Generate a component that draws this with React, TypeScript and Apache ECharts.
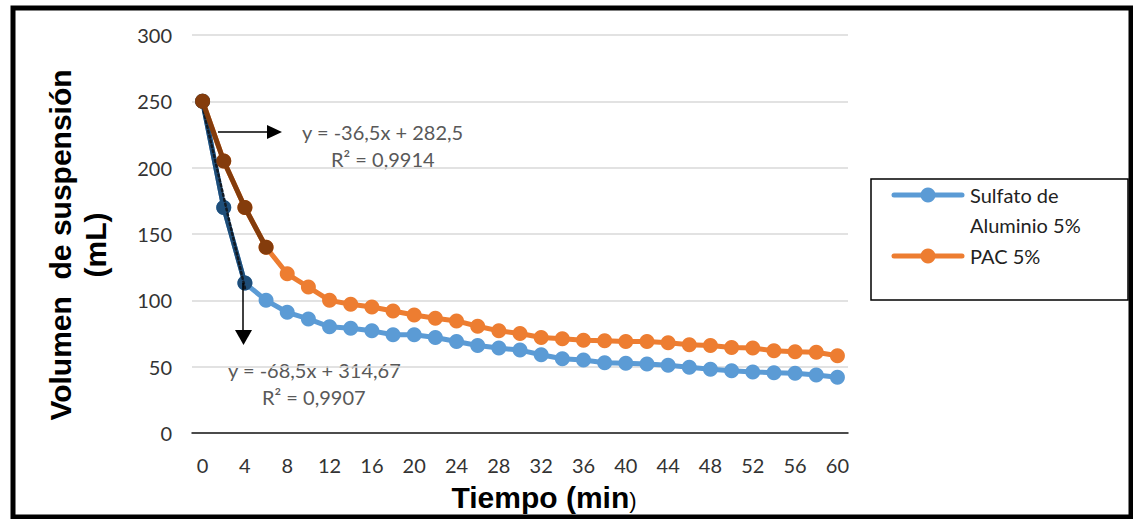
import React, { useEffect, useRef } from "react";
import * as echarts from "echarts";

const times = [0, 2, 4, 6, 8, 10, 12, 14, 16, 18, 20, 22, 24, 26, 28, 30, 32, 34, 36, 38, 40, 42, 44, 46, 48, 50, 52, 54, 56, 58, 60];
const sulfato = [250, 170, 113, 100, 91, 86, 80, 79, 77, 74, 74, 72, 69, 66, 64, 62.5, 59, 56, 55, 53, 52.5, 52, 51, 49.5, 48, 47, 46, 45.5, 45, 43.7, 42];
const pac = [250, 205, 170, 140, 120, 110, 100, 97, 95, 92, 89, 86.5, 84.5, 80.5, 77, 75, 72, 71, 70, 69.5, 69, 69, 68, 66.5, 66, 64.5, 64, 62, 61.3, 60.8, 58.3];
// trendline read from the displayed fit (first three Sulfato points)
const trendSulfato = [246.2, 177.7, 109.2];
const sulfatoHighlight = sulfato.slice(0, 3);
const pacHighlight = pac.slice(0, 4);
const seriesNames = ["Sulfato de Aluminio 5%", "PAC 5%"];
const eqPac = ["y = -36,5x + 282,5", "R² = 0,9914"];
const eqSulfato = ["y = -68,5x + 314,67", "R² = 0,9907"];

const BLUE = "#5B9BD5";
const ORANGE = "#ED7D31";
const NAVY = "#1F4E79";
const BROWN = "#843C0C";
const FONT = "Lato, 'Open Sans', sans-serif";

export default function App() {
  const ref = useRef<HTMLDivElement>(null);
  useEffect(() => {
    if (!ref.current) return;
    const chart = echarts.init(ref.current, undefined, { renderer: "svg" });
    const lineSeries = (name: string, data: any[], color: string, z: number) => ({
      name,
      type: "line",
      data,
      z,
      symbol: "circle",
      symbolSize: 15,
      showSymbol: true,
      showAllSymbol: true,
      itemStyle: { color },
      lineStyle: { color, width: 5 },
      emphasis: { disabled: true },
    });
    chart.setOption({
      animation: false,
      grid: { left: 192, right: 285, top: 35, bottom: 86, containLabel: false },
      xAxis: {
        type: "category",
        data: times.map(String),
        boundaryGap: true,
        axisLine: { show: true, lineStyle: { color: "#1a1a1a", width: 1.5 } },
        axisTick: { show: false },
        axisLabel: { interval: 1, margin: 22, color: "#333", fontSize: 20, fontFamily: FONT },
        splitLine: { show: false },
      },
      yAxis: {
        type: "value",
        min: 0,
        max: 300,
        interval: 50,
        axisLine: { show: false },
        axisTick: { show: false },
        axisLabel: { margin: 20, color: "#333", fontSize: 20, fontFamily: FONT },
        splitLine: { lineStyle: { color: "#D9D9D9", width: 1.5 } },
      },
      series: [
        lineSeries(seriesNames[0], sulfato, BLUE, 2),
        lineSeries(seriesNames[1], pac, ORANGE, 3),
        lineSeries("Sulfato (tramo)", sulfatoHighlight, NAVY, 4),
        {
          name: "Tendencia Sulfato",
          type: "line",
          data: trendSulfato,
          z: 5,
          symbol: "none",
          lineStyle: { color: "#111a24", width: 2.5, type: [2, 3], cap: "round" },
          emphasis: { disabled: true },
        },
        lineSeries("PAC (tramo)", pacHighlight, BROWN, 6),
      ],
      graphic: [
        {
          type: "rect",
          shape: { x: 13, y: 8, width: 1118, height: 509 },
          style: { fill: "none", stroke: "#000", lineWidth: 5 },
          silent: true,
        },
        {
          type: "text",
          x: 60,
          y: 245,
          rotation: Math.PI / 2,
          style: {
            text: "Volumen  de suspensión",
            font: "bold 30px 'Liberation Sans', Arial, sans-serif",
            fill: "#000",
            align: "center",
            verticalAlign: "middle",
          },
        },
        {
          type: "text",
          x: 95,
          y: 245,
          rotation: Math.PI / 2,
          style: {
            text: "(mL)",
            font: "bold 30px 'Liberation Sans', Arial, sans-serif",
            fill: "#000",
            align: "center",
            verticalAlign: "middle",
          },
        },
        {
          type: "text",
          x: 544,
          y: 497,
          style: {
            text: "{b|Tiempo (min}{r|)}",
            align: "center",
            verticalAlign: "middle",
            rich: {
              b: { font: "bold 30px 'Liberation Sans', Arial, sans-serif", fill: "#000" },
              r: { font: "22px 'Liberation Sans', Arial, sans-serif", fill: "#000", padding: [6, 0, 0, 0] },
            },
          },
        },
        // legend
        {
          type: "rect",
          shape: { x: 871, y: 179, width: 257, height: 121 },
          style: { fill: "#fff", stroke: "#000", lineWidth: 1.5 },
        },
        { type: "line", shape: { x1: 894, y1: 195, x2: 962, y2: 195 }, style: { stroke: BLUE, lineWidth: 5, lineCap: "round" } },
        { type: "circle", shape: { cx: 928, cy: 195, r: 7.5 }, style: { fill: BLUE } },
        { type: "text", x: 970, y: 195, style: { text: "Sulfato de", font: `20px ${FONT}`, fill: "#222", verticalAlign: "middle" } },
        { type: "text", x: 970, y: 225, style: { text: "Aluminio 5%", font: `20px ${FONT}`, fill: "#222", verticalAlign: "middle" } },
        { type: "line", shape: { x1: 894, y1: 256, x2: 962, y2: 256 }, style: { stroke: ORANGE, lineWidth: 5, lineCap: "round" } },
        { type: "circle", shape: { cx: 928, cy: 256, r: 7.5 }, style: { fill: ORANGE } },
        { type: "text", x: 970, y: 256, style: { text: "PAC 5%", font: `20px ${FONT}`, fill: "#222", verticalAlign: "middle" } },
        // arrows
        { type: "line", shape: { x1: 218, y1: 132, x2: 268, y2: 132 }, style: { stroke: "#000", lineWidth: 1.5 }, z: 20 },
        { type: "polygon", shape: { points: [[267, 125], [282, 132], [267, 139]] }, style: { fill: "#000" }, z: 20 },
        { type: "line", shape: { x1: 243, y1: 283, x2: 243, y2: 331 }, style: { stroke: "#000", lineWidth: 1.5 }, z: 20 },
        { type: "polygon", shape: { points: [[235, 330], [252, 330], [243.5, 345]] }, style: { fill: "#000" }, z: 20 },
        // equations
        { type: "text", x: 302, y: 132, style: { text: eqPac[0], font: `20px ${FONT}`, fill: "#595959", verticalAlign: "middle" } },
        { type: "text", x: 331, y: 159, style: { text: eqPac[1], font: `20px ${FONT}`, fill: "#595959", verticalAlign: "middle" } },
        { type: "text", x: 228, y: 370, style: { text: eqSulfato[0], font: `20px ${FONT}`, fill: "#595959", verticalAlign: "middle" } },
        { type: "text", x: 262, y: 397, style: { text: eqSulfato[1], font: `20px ${FONT}`, fill: "#595959", verticalAlign: "middle" } },
      ],
    });
    return () => chart.dispose();
  }, []);
  return (
    <div
      ref={ref}
      style={{ position: "fixed", left: 0, top: 0, width: 1133, height: 519, background: "#fff" }}
    />
  );
}
